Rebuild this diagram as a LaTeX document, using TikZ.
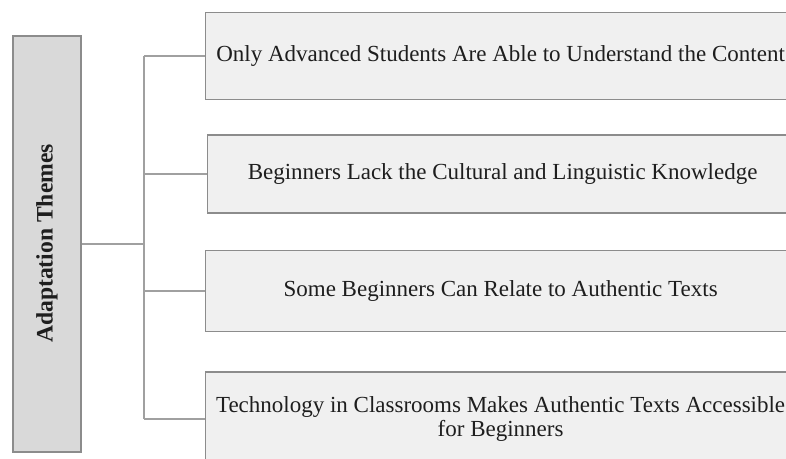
\documentclass[tikz,border=0pt]{standalone}
\usepackage{fontspec}
\setmainfont{Liberation Serif}
\definecolor{leftfill}{HTML}{D9D9D9}
\definecolor{boxfill}{HTML}{F0F0F0}
\definecolor{edge}{HTML}{8C8C8C}
\definecolor{wire}{HTML}{A0A0A0}
\definecolor{ink}{HTML}{1E1E1E}
\begin{document}
\begin{tikzpicture}[x=1pt,y=-1pt,
  themebox/.style={draw=edge,line width=1.2pt,fill=boxfill,inner sep=0pt,
    minimum width=590pt,align=center,anchor=west,
    font=\fontsize{23}{23.5}\selectfont,text=ink},
  rootbox/.style={draw=edge,line width=1.2pt,fill=leftfill,inner sep=0pt,
    minimum width=68pt,minimum height=416pt},
  wire/.style={draw=wire,line width=1.5pt}]
\useasboundingbox (0,0) rectangle (786,458);
\clip (0,0) rectangle (786,458);
\node[rootbox] (root) at (47,244) {};
\node[rotate=90,font=\bfseries\fontsize{23.6}{24}\selectfont,text=ink] (rootlabel) at (47,243.5) {Adaptation Themes};
\node[themebox,minimum height=87pt] (t1) at (205,56) {Only Advanced Students Are Able to Understand the Content};
\node[themebox,minimum height=78pt] (t2) at (207,174) {Beginners Lack the Cultural and Linguistic Knowledge};
\node[themebox,minimum height=81pt] (t3) at (205,291) {Some Beginners Can Relate to Authentic Texts};
\node[themebox,minimum height=94pt] (t4) at (205,419) {Technology in Classrooms Makes Authentic Texts Accessible\\for Beginners};
\coordinate (trunk) at (144,244);
\coordinate (top) at (144,56);
\coordinate (bot) at (144,419);
\draw[wire] (root.east) -- (trunk);
\draw[wire] (top) -- (bot);
\draw[wire] (top) -- (t1.west);
\draw[wire] (144,174) -- (t2.west);
\draw[wire] (144,291) -- (t3.west);
\draw[wire] (bot) -- (t4.west);
\end{tikzpicture}
\end{document}
